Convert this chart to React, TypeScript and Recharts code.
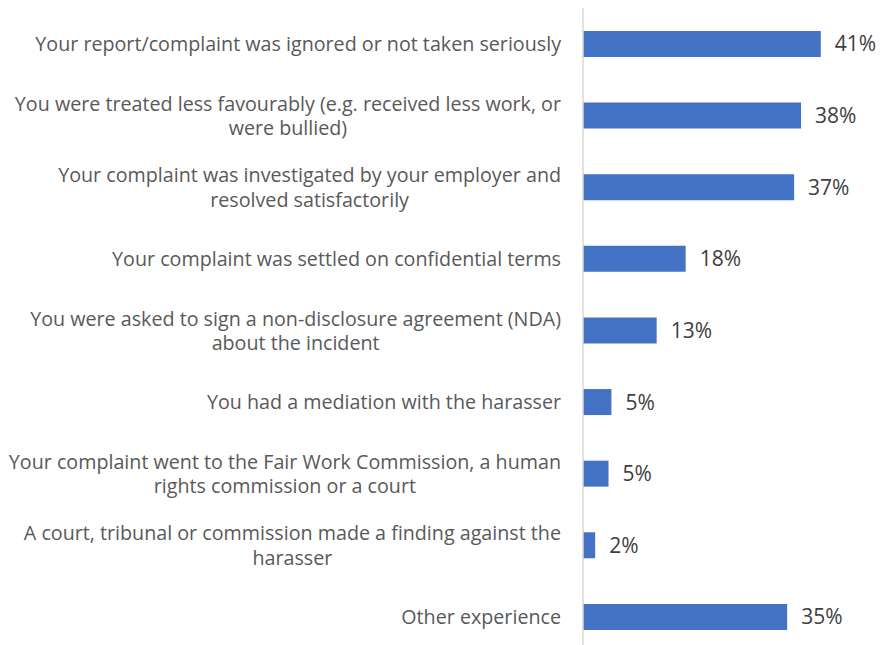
import React from "react";
import { Bar, BarChart, LabelList, XAxis, YAxis } from "recharts";

// outcome categories, top to bottom ("\n" marks the wrapped line)
const categories = [
  "Your report/complaint was ignored or not taken seriously",
  "You were treated less favourably (e.g. received less work, or\nwere bullied)",
  "Your complaint was investigated by your employer and\nresolved satisfactorily",
  "Your complaint was settled on confidential terms",
  "You were asked to sign a non-disclosure agreement (NDA)\nabout the incident",
  "You had a mediation with the harasser",
  "Your complaint went to the Fair Work Commission, a human\nrights commission or a court",
  "A court, tribunal or commission made a finding against the\nharasser",
  "Other experience",
];
const values = [41.0, 37.6, 36.4, 17.7, 12.7, 4.9, 4.4, 2.1, 35.2];
const valueLabels = ["41%", "38%", "37%", "18%", "13%", "5%", "5%", "2%", "35%"];

const data = categories.map((name, i) => ({ name, value: values[i], label: valueLabels[i] }));

const FONT = "'Open Sans', sans-serif";
const FONT_SIZE = 19.7;
const LINE_HEIGHT = 24.5;

let ctx: CanvasRenderingContext2D | null = null;
const measure = (s: string) => {
  if (!ctx) ctx = document.createElement("canvas").getContext("2d");
  if (!ctx) return s.length * 9;
  ctx.font = `${FONT_SIZE}px 'Open Sans'`;
  return ctx.measureText(s).width;
};

// right aligned block, lines centred inside it (like Excel's wrapped labels)
const CategoryTick = (props: any) => {
  const { x, y, payload } = props;
  const lines: string[] = String(payload.value).split("\n");
  const blockWidth = Math.max(...lines.map(measure));
  const cx = x - blockWidth / 2;
  const startY = y - ((lines.length - 1) * LINE_HEIGHT) / 2;
  return (
    <g>
      {lines.map((line, i) => (
        <text
          key={i}
          x={lines.length > 1 ? cx : x}
          y={startY + i * LINE_HEIGHT}
          textAnchor={lines.length > 1 ? "middle" : "end"}
          dominantBaseline="central"
          fill="#595959"
          fontSize={FONT_SIZE}
          fontFamily={FONT}
        >
          {line}
        </text>
      ))}
    </g>
  );
};

export default function App() {
  return (
    <div
      style={{
        position: "fixed",
        top: 0,
        left: 0,
        width: 882,
        height: 645,
        overflow: "hidden",
        background: "#fff",
      }}
    >
      <BarChart
        width={882}
        height={660}
        data={data}
        layout="vertical"
        margin={{ top: 8, right: 9, left: 0, bottom: 7.5 }}
      >
        <XAxis type="number" domain={[0, 50]} hide />
        <YAxis
          type="category"
          dataKey="name"
          width={583}
          axisLine={{ stroke: "#d9d9d9", strokeWidth: 1.5 }}
          tickLine={false}
          tickSize={0}
          tickMargin={22}
          interval={0}
          tick={<CategoryTick />}
        />
        <Bar dataKey="value" fill="#4472C4" barSize={26} isAnimationActive={false}>
          <LabelList
            dataKey="label"
            position="right"
            offset={14}
            fill="#404040"
            fontSize={21}
            fontFamily={FONT}
          />
        </Bar>
      </BarChart>
    </div>
  );
}
